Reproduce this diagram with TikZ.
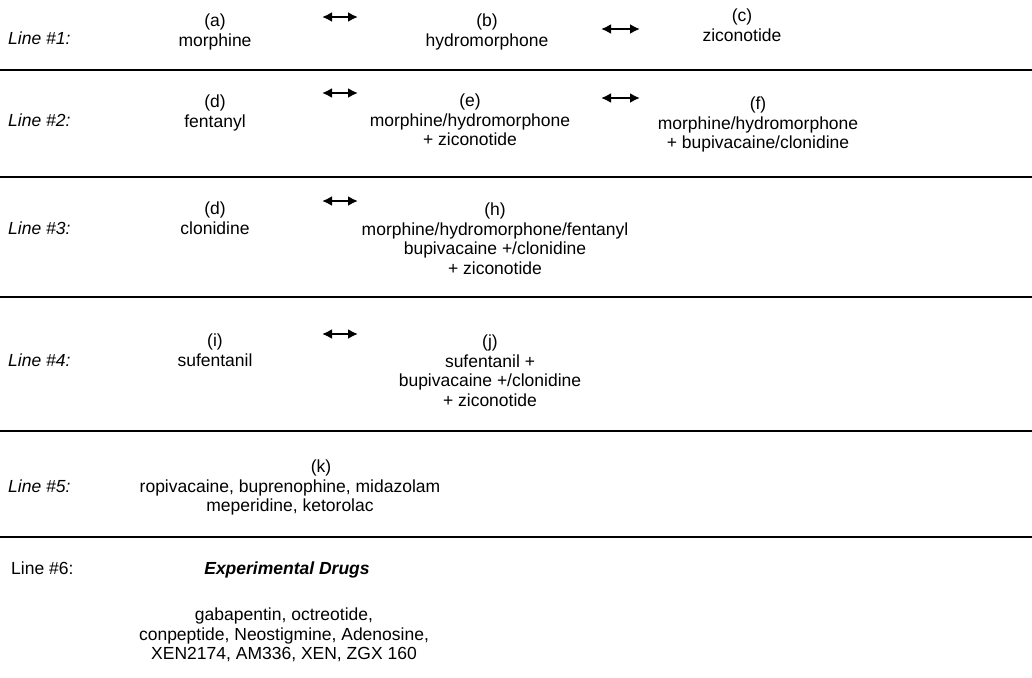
\documentclass[tikz,border=0pt]{standalone}
\usepackage{fontspec}
\setmainfont{Liberation Sans}
\usetikzlibrary{arrows.meta}

\begin{document}
\begin{tikzpicture}[x=1pt, y=-1pt,
        drug/.style={align=center, anchor=north, inner sep=0pt, font=\fontsize{17.5}{19.5}\selectfont},
        linelabel/.style={anchor=base west, inner sep=0pt, font=\fontsize{17.5}{19.5}\selectfont\itshape},
        altarrow/.style={{Latex[length=10pt,width=10pt]}-{Latex[length=10pt,width=10pt]}, line width=2.4pt},
        sepline/.style={line width=1.2pt}]
        \useasboundingbox (0,0) rectangle (1032,677);
        \node [linelabel] (l1) at (8,45) {Line \#1:};
        \node [drug] (a) at (215,14) {(a)\\morphine};
        \node [drug] (b) at (487,14) {(b)\\hydromorphone};
        \node [drug] (c) at (742,9) {(c)\\ziconotide};
        \coordinate (ab1) at (322,17);
        \coordinate (ab2) at (358,17);
        \coordinate (bc1) at (601,29);
        \coordinate (bc2) at (640,29);
        \draw [altarrow] (ab1) -- (ab2);
        \draw [altarrow] (bc1) -- (bc2);
        \draw [sepline] (0,70) -- (1032,70);
        \node [linelabel] (l2) at (8,126) {Line \#2:};
        \node [drug] (d) at (215,95) {(d)\\fentanyl};
        \node [drug] (e) at (470,94) {(e)\\morphine/hydromorphone\\+ ziconotide};
        \node [drug] (f) at (758,97) {(f)\\morphine/hydromorphone\\+ bupivacaine/clonidine};
        \coordinate (de1) at (322,93);
        \coordinate (de2) at (358,93);
        \coordinate (ef1) at (601,98);
        \coordinate (ef2) at (640,98);
        \draw [altarrow] (de1) -- (de2);
        \draw [altarrow] (ef1) -- (ef2);
        \draw [sepline] (0,177) -- (1032,177);
        \node [linelabel] (l3) at (8,234) {Line \#3:};
        \node [drug] (d3) at (215,202) {(d)\\clonidine};
        \node [drug] (h) at (495,203) {(h)\\morphine/hydromorphone/fentanyl\\bupivacaine +/clonidine\\+ ziconotide};
        \coordinate (dh1) at (322,201);
        \coordinate (dh2) at (358,201);
        \draw [altarrow] (dh1) -- (dh2);
        \draw [sepline] (0,297) -- (1032,297);
        \node [linelabel] (l4) at (8,366) {Line \#4:};
        \node [drug] (i) at (215,334) {(i)\\sufentanil};
        \node [drug] (j) at (490,335) {(j)\\sufentanil +\\bupivacaine +/clonidine\\+ ziconotide};
        \coordinate (ij1) at (322,334);
        \coordinate (ij2) at (358,334);
        \draw [altarrow] (ij1) -- (ij2);
        \draw [sepline] (0,431) -- (1032,431);
        \node [linelabel] (l5) at (8,492) {Line \#5:};
        \node [drug] (k) at (290,460) {\hspace*{62pt}(k)\\ropivacaine, buprenophine, midazolam\\meperidine, ketorolac};
        \draw [sepline] (0,537) -- (1032,537);
        \node [linelabel, font=\fontsize{17.5}{19.5}\selectfont] (l6) at (11,574) {Line \#6:};
        \node [anchor=base, inner sep=0pt, font=\fontsize{17.5}{19.5}\selectfont\bfseries\itshape] (x) at (287,574) {Experimental Drugs};
        \node [drug] (xd) at (284,608) {gabapentin, octreotide,\\conpeptide, Neostigmine, Adenosine,\\XEN2174, AM336, XEN, ZGX 160};
\end{tikzpicture}
\end{document}
